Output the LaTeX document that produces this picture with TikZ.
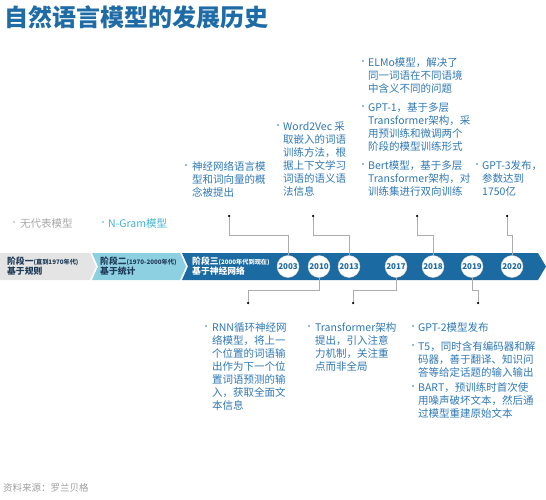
\documentclass[tikz,border=0pt]{standalone}
\usepackage{fontspec}
\setmainfont{Noto Sans CJK SC}
\usepackage{tikz}
\usetikzlibrary{positioning}

\definecolor{bandblue}{HTML}{1B6AA1}
\definecolor{bandcyan}{HTML}{8DD0E2}
\definecolor{bandgray}{HTML}{E4E4E4}
\definecolor{textblue}{HTML}{2F78B4}
\definecolor{titleblue}{HTML}{1E6BA5}
\definecolor{stagetext}{HTML}{1F3B57}
\definecolor{ngramcyan}{HTML}{3FB5D3}

\begin{document}
\begin{tikzpicture}[x=1pt, y=-1pt,
        note/.style={anchor=north west, inner sep=0pt, align=left, text=textblue,
            font=\fontsize{10.5}{13}\selectfont},
        bul/.style={inner sep=0pt, text=textblue, font=\fontsize{8}{8}\selectfont},
        year/.style={circle, fill=white, draw=gray!35, thin, minimum size=22pt, inner sep=0pt,
            text=titleblue, font=\fontsize{8}{8}\selectfont\bfseries},
        dot/.style={circle, fill=black, inner sep=0pt, minimum size=2.5pt},
        link/.style={draw=gray!65, line width=0.8pt},
        stage/.style={anchor=north west, inner sep=0pt, align=left,
            font=\fontsize{8.8}{10.5}\selectfont\bfseries}
    ]
    \useasboundingbox (0,0) rectangle (546,500);

    % Title
    \node[anchor=west, inner sep=0pt, text=titleblue, font=\fontsize{24}{26}\selectfont\bfseries]
        (title) at (4,17) {自然语言模型的发展历史};

    % Stages band
    \fill[bandgray] (0,253) -- (90,253) -- (96,266.5) -- (90,280) -- (0,280) -- cycle;
    \fill[bandcyan] (92,253) -- (180,253) -- (186,266.5) -- (180,280) -- (92,280) -- (98,266.5) -- cycle;
    \fill[bandblue] (182,253) -- (538,253) -- (546,266.5) -- (538,280) -- (182,280) -- (188,266.5) -- cycle;

    \node[stage, text=stagetext] (s1) at (7,256.5)
        {阶段一{\fontsize{6.2}{6}\selectfont(直到1970年代)}\\基于规则};
    \node[stage, text=stagetext] (s2) at (100,256.5)
        {阶段二{\fontsize{6.2}{6}\selectfont(1970-2000年代)}\\基于统计};
    \node[stage, text=white] (s3) at (192,256.5)
        {阶段三{\fontsize{6.2}{6}\selectfont(2000年代到现在)}\\基于神经网络};

    % Years
    \foreach \yr/\x in {2003/288, 2010/319, 2013/349, 2017/396, 2018/433, 2019/472, 2020/512} {
        \node[year] (y\yr) at (\x,266.5) {\yr};
    }

    % Connections
    \foreach \yr/\x in {2003/229, 2013/313, 2018/417, 2020/507} {
        \node[dot] (d\yr) at (\x,216) {};
        \draw[link] (d\yr) -- ++(0,19) -| (y\yr);
    }
    \foreach \yr/\x in {2010/248, 2017/353, 2019/478} {
        \node[dot] (d\yr) at (\x,303) {};
        \draw[link] (d\yr) -- ++(0,-13) -| (y\yr);
    }

    % Early models
    \node[bul, text=gray!70] (bnone) at (14,224) {•};
    \node[note, anchor=west, text=gray!70] (none) at (20,224) {无代表模型};
    \node[bul, text=ngramcyan] (bngram) at (103,224) {•};
    \node[note, anchor=west, text=ngramcyan] (ngram) at (108,224) {N-Gram模型};

    % Notes above
    \node[bul] (ba) at (186,167) {•};
    \node[note] (na) at (192,161.7) {神经网络语言模\\型和词向量的概\\念被提出};
    \node[bul] (bb) at (278,127) {•};
    \node[note] (nb) at (283,121.7) {Word2Vec 采\\取嵌入的词语\\训练方法，根\\据上下文学习\\词语的语义语\\法信息};
    \node[bul] (bc1) at (363,63) {•};
    \node[note] (nc1) at (368,57.7) {ELMo模型，解决了\\同一词语在不同语境\\中含义不同的问题};
    \node[bul] (bc2) at (363,108) {•};
    \node[note] (nc2) at (368,102.7) {GPT-1，基于多层\\Transformer架构，采\\用预训练和微调两个\\阶段的模型训练形式};
    \node[bul] (bc3) at (363,166) {•};
    \node[note] (nc3) at (368,160.7) {Bert模型，基于多层\\Transformer架构，对\\训练集进行双向训练};
    \node[bul] (bd) at (477,166) {•};
    \node[note] (nd) at (482,160.7) {GPT-3发布，\\参数达到\\1750亿};

    % Notes below
    \node[bul] (be) at (206,328) {•};
    \node[note] (ne) at (212,322.7) {RNN循环神经网\\络模型，将上一\\个位置的词语输\\出作为下一个位\\置词语预测的输\\入，获取全面文\\本信息};
    \node[bul] (bf) at (309,328) {•};
    \node[note] (nf) at (315,322.7) {Transformer架构\\提出，引入注意\\力机制，关注重\\点而非全局};
    \node[bul] (bg1) at (413,328) {•};
    \node[note] (ng1) at (418,322.7) {GPT-2模型发布};
    \node[bul] (bg2) at (413,347) {•};
    \node[note] (ng2) at (418,341.7) {T5，同时含有编码器和解\\码器，善于翻译、知识问\\答等给定话题的输入输出};
    \node[bul] (bg3) at (413,388) {•};
    \node[note] (ng3) at (418,382.7) {BART，预训练时首次使\\用噪声破坏文本，然后通\\过模型重建原始文本};

    % Source
    \node[anchor=west, inner sep=0pt, text=gray!75, font=\fontsize{9.5}{11}\selectfont]
        (source) at (3,488) {资料来源：罗兰贝格};
\end{tikzpicture}
\end{document}
